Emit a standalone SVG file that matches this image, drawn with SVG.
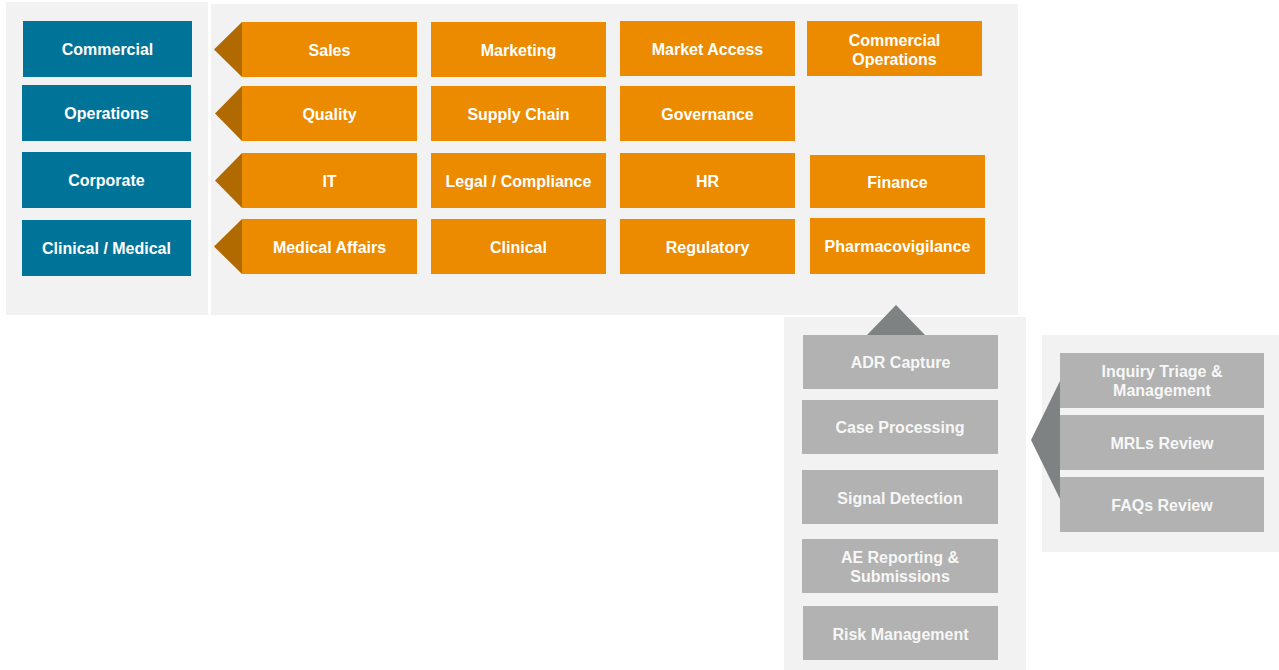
<svg xmlns="http://www.w3.org/2000/svg" width="1279" height="670" viewBox="0 0 1279 670">
  <style>
    .panel { fill: #F2F2F2; }
    .blue { fill: #007398; }
    .orange { fill: #EC8B00; }
    .grey { fill: #B1B2B1; }
    .tip-o { fill: #B06A00; }
    .tip-g { fill: #7F8282; }
    text { font-family: "Liberation Sans", Arial, sans-serif; font-size: 16px; font-weight: bold; fill: #FFFFFF; text-anchor: middle; }
    .lt { fill: #F7F7F7; }
  </style>
  <rect width="1279" height="670" fill="#FFFFFF"/>

  <!-- background panels -->
  <g id="panels">
    <rect class="panel" x="6" y="2" width="202" height="313"/>
    <rect class="panel" x="211" y="4" width="807" height="311"/>
    <rect class="panel" x="784" y="317" width="242" height="353"/>
    <rect class="panel" x="1042" y="335" width="237" height="217"/>
  </g>

  <!-- pointers linking groups -->
  <g id="connectors">
    <polygon class="tip-o" points="242,22 214,49.5 242,77"/>
    <polygon class="tip-o" points="242,86 215,113.5 242,141"/>
    <polygon class="tip-o" points="242,153 215,180.5 242,208"/>
    <polygon class="tip-o" points="242,219 214,246.5 242,274"/>
    <polygon class="tip-g" points="867,335 896,305 925,335"/>
    <polygon class="tip-g" points="1060,381 1031,440 1060,499"/>
  </g>

  <!-- functional areas -->
  <g id="commercial"><rect class="blue" x="23" y="21" width="169" height="56"/><text x="107.5" y="55">Commercial</text></g>
  <g id="operations"><rect class="blue" x="22" y="85" width="169" height="56"/><text x="106.5" y="119">Operations</text></g>
  <g id="corporate"><rect class="blue" x="22" y="152" width="169" height="56"/><text x="106.5" y="186">Corporate</text></g>
  <g id="clinical-medical"><rect class="blue" x="22" y="220" width="169" height="56"/><text x="106.5" y="254">Clinical / Medical</text></g>

  <!-- commercial row -->
  <g id="sales"><rect class="orange" x="242" y="22" width="175" height="55"/><text x="329.5" y="55.5">Sales</text></g>
  <g id="marketing"><rect class="orange" x="431" y="22" width="175" height="55"/><text x="518.5" y="55.5">Marketing</text></g>
  <g id="market-access"><rect class="orange" x="620" y="21" width="175" height="55"/><text x="707.5" y="55">Market Access</text></g>
  <g id="commercial-operations"><rect class="orange" x="807" y="21" width="175" height="55"/><text x="894.5" y="46">Commercial</text><text x="894.5" y="65">Operations</text></g>

  <!-- operations row -->
  <g id="quality"><rect class="orange" x="242" y="86" width="175" height="55"/><text x="329.5" y="119.5">Quality</text></g>
  <g id="supply-chain"><rect class="orange" x="431" y="86" width="175" height="55"/><text x="518.5" y="119.5">Supply Chain</text></g>
  <g id="governance"><rect class="orange" x="620" y="86" width="175" height="55"/><text x="707.5" y="119.5">Governance</text></g>

  <!-- corporate row -->
  <g id="it"><rect class="orange" x="242" y="153" width="175" height="55"/><text x="329.5" y="186.5">IT</text></g>
  <g id="legal-compliance"><rect class="orange" x="431" y="153" width="175" height="55"/><text x="518.5" y="186.5">Legal / Compliance</text></g>
  <g id="hr"><rect class="orange" x="620" y="153" width="175" height="55"/><text x="707.5" y="186.5">HR</text></g>
  <g id="finance"><rect class="orange" x="810" y="155" width="175" height="53"/><text x="897.5" y="187.5">Finance</text></g>

  <!-- clinical / medical row -->
  <g id="medical-affairs"><rect class="orange" x="242" y="219" width="175" height="55"/><text x="329.5" y="252.5">Medical Affairs</text></g>
  <g id="clinical"><rect class="orange" x="431" y="219" width="175" height="55"/><text x="518.5" y="252.5">Clinical</text></g>
  <g id="regulatory"><rect class="orange" x="620" y="219" width="175" height="55"/><text x="707.5" y="252.5">Regulatory</text></g>
  <g id="pharmacovigilance"><rect class="orange" x="810" y="218" width="175" height="56"/><text x="897.5" y="252">Pharmacovigilance</text></g>

  <!-- pharmacovigilance activities -->
  <g id="adr-capture"><rect class="grey" x="803" y="335" width="195" height="54"/><text class="lt" x="900.5" y="368">ADR Capture</text></g>
  <g id="case-processing"><rect class="grey" x="802" y="400" width="196" height="54"/><text class="lt" x="900" y="433">Case Processing</text></g>
  <g id="signal-detection"><rect class="grey" x="802" y="470" width="196" height="54"/><text class="lt" x="900" y="504">Signal Detection</text></g>
  <g id="ae-reporting"><rect class="grey" x="802" y="539" width="196" height="54"/><text class="lt" x="900" y="563">AE Reporting &amp;</text><text class="lt" x="900" y="582">Submissions</text></g>
  <g id="risk-management"><rect class="grey" x="803" y="606" width="195" height="54"/><text class="lt" x="900.5" y="639.5">Risk Management</text></g>

  <!-- medical information activities -->
  <g id="inquiry-triage"><rect class="grey" x="1060" y="353" width="204" height="55"/><text class="lt" x="1162" y="377">Inquiry Triage &amp;</text><text class="lt" x="1162" y="396">Management</text></g>
  <g id="mrls-review"><rect class="grey" x="1060" y="415" width="204" height="55"/><text class="lt" x="1162" y="448.5">MRLs Review</text></g>
  <g id="faqs-review"><rect class="grey" x="1060" y="477" width="204" height="55"/><text class="lt" x="1162" y="510.5">FAQs Review</text></g>
</svg>
